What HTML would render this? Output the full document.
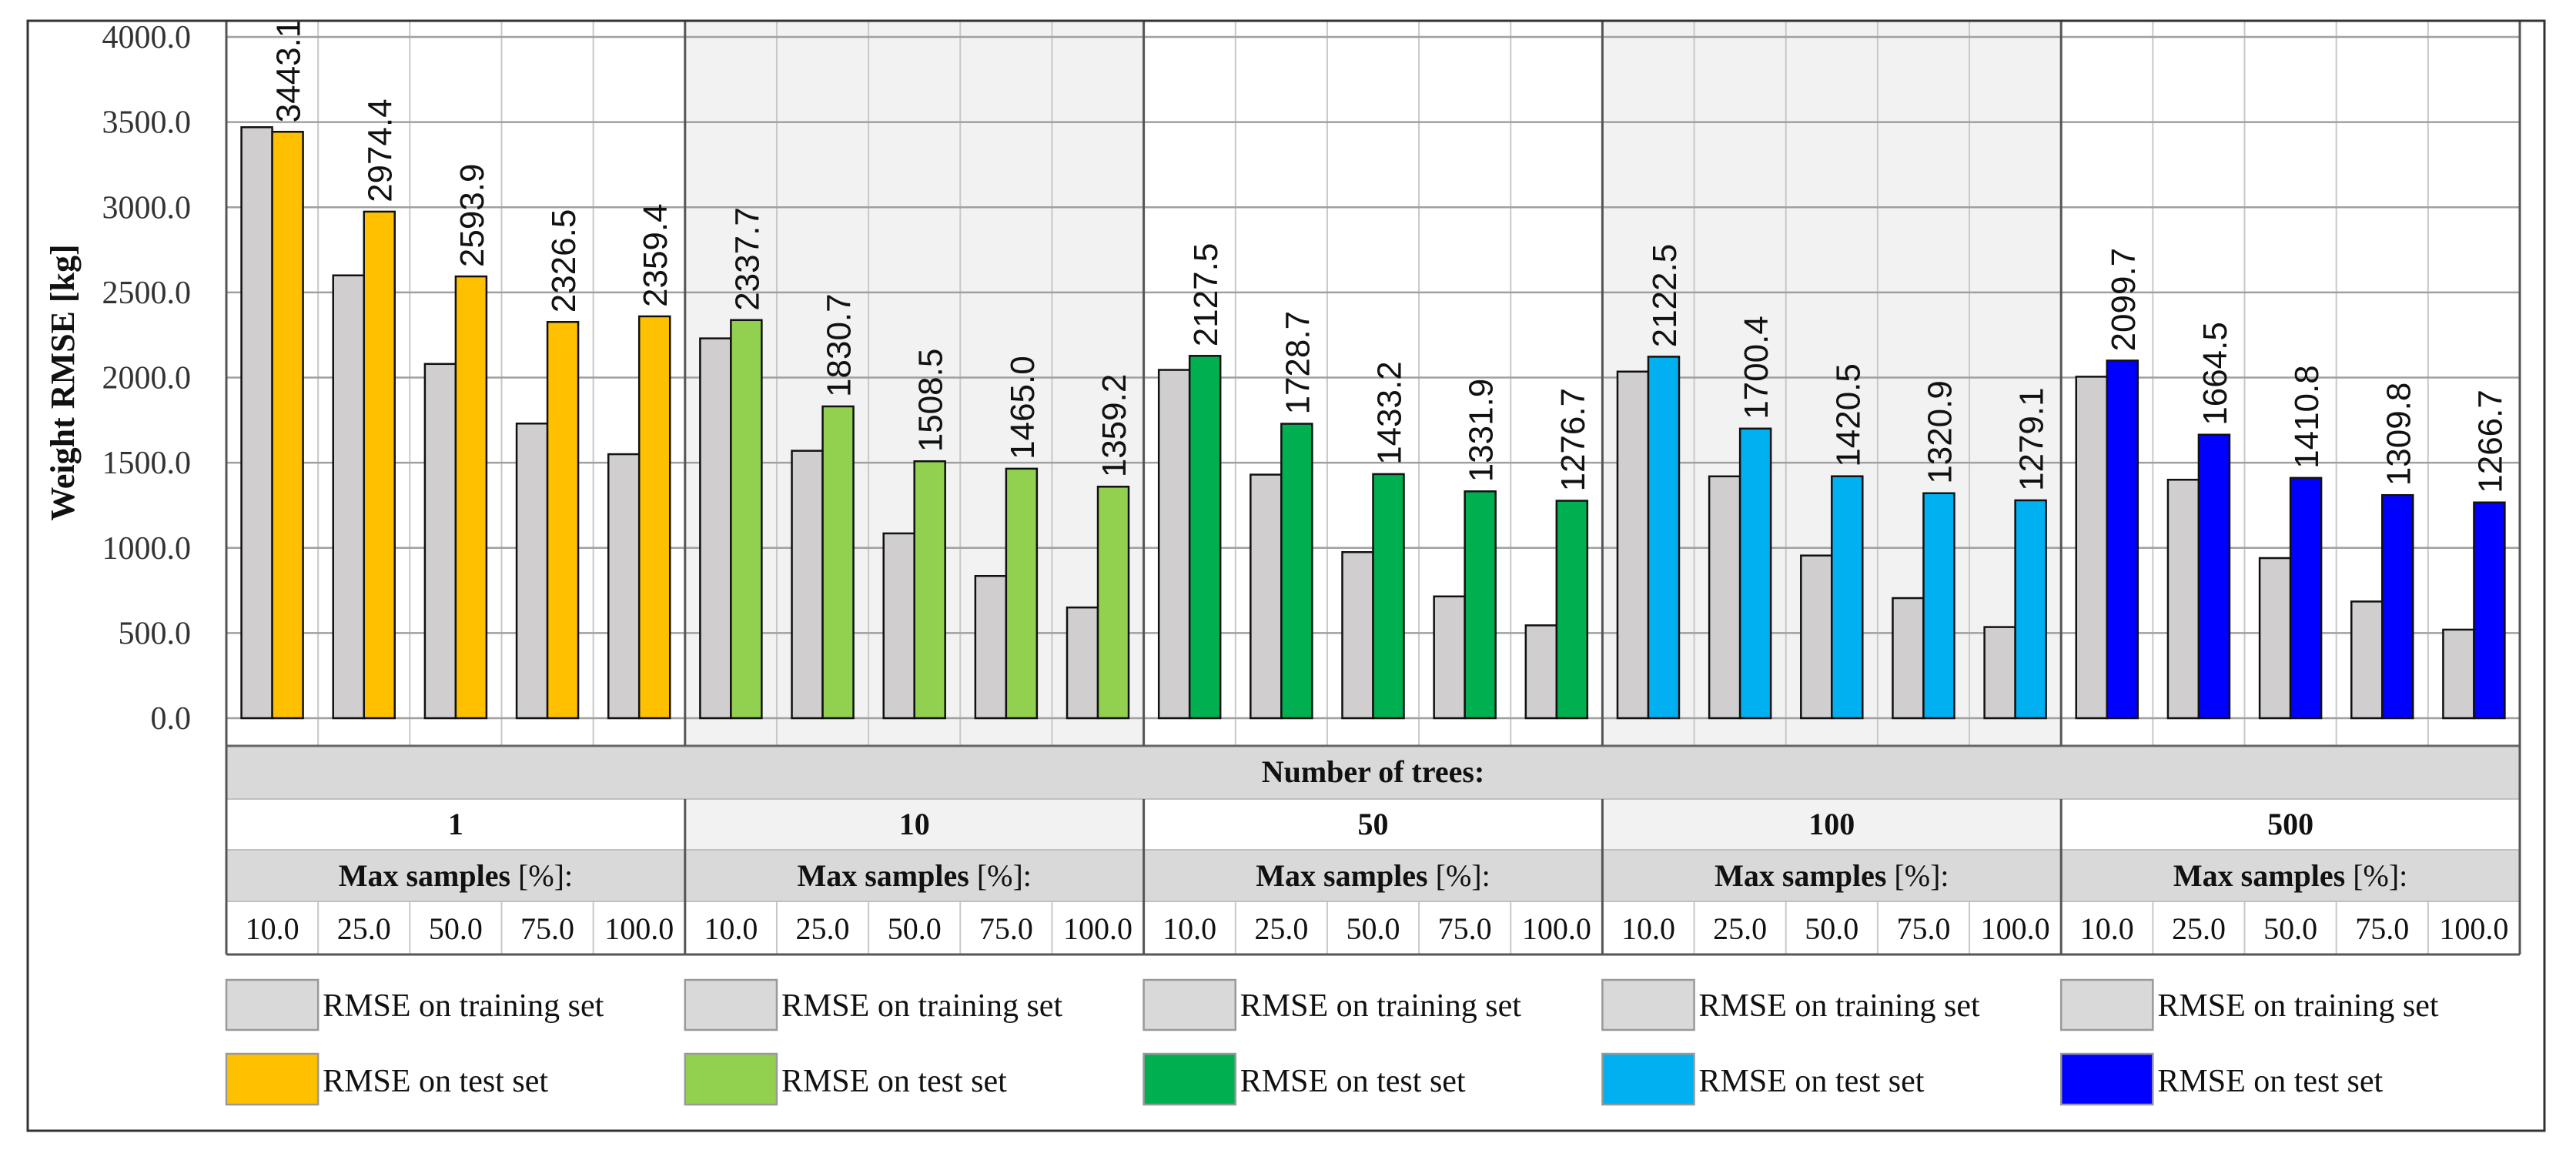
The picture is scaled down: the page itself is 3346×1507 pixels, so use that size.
<!DOCTYPE html>
<html><head><meta charset="utf-8"><style>
html,body{margin:0;padding:0;background:#fff;}
svg{display:block;}
</style></head><body>
<svg id="chart" width="3346" height="1507" viewBox="0 0 3346 1507" xmlns="http://www.w3.org/2000/svg">
<g id="bg"></g><g id="grid"></g><g id="bars"></g><g id="labels"></g><g id="table"></g><g id="legend"></g>
</svg>
<script>
const treeCounts = ["1","10","50","100","500"];
const maxSamples = ["10.0","25.0","50.0","75.0","100.0"];
const trainValues = [3470,2600,2080,1730,1550, 2230,1570,1085,835,650, 2045,1430,975,715,545, 2035,1420,955,705,535, 2005,1400,940,685,520];
const testValues = [3443.1,2974.4,2593.9,2326.5,2359.4, 2337.7,1830.7,1508.5,1465.0,1359.2, 2127.5,1728.7,1433.2,1331.9,1276.7, 2122.5,1700.4,1420.5,1320.9,1279.1, 2099.7,1664.5,1410.8,1309.8,1266.7];
const yTicks = [0,500,1000,1500,2000,2500,3000,3500,4000];
const testColors = ["#FFC000","#92D050","#00B050","#00B0F0","#0000FF"];

const NS="http://www.w3.org/2000/svg";
const L=294,R=3273,TOP=27,PB=969,Y0=933,Y4000=48;
const colW=(R-L)/25, grpW=colW*5;
const y=v=>Y0-(v/4000)*(Y0-Y4000);
const xCol=i=>L+i*colW;
function mk(tag,attrs,parent,text){const e=document.createElementNS(NS,tag);for(const k in attrs)e.setAttribute(k,attrs[k]);if(text!==undefined)e.textContent=text;parent.appendChild(e);return e;}
const bg=document.getElementById('bg'),grid=document.getElementById('grid'),bars=document.getElementById('bars'),labels=document.getElementById('labels'),table=document.getElementById('table'),legend=document.getElementById('legend');
const SERIF='"Liberation Serif", serif', NARROW='"Liberation Sans Narrow","Liberation Sans",sans-serif';

// shaded groups
for(let g=0;g<5;g++){ if(g%2===1){
  let r=mk('rect',{x:L+g*grpW,y:TOP,width:grpW,height:PB-TOP,fill:'#f2f2f2'},bg);
   
  let r2=mk('rect',{x:L+g*grpW,y:1038,width:grpW,height:66,fill:'#f2f2f2'},bg);
   
}}
// vertical minor lines
for(let i=1;i<25;i++){ if(i%5) {
  mk('line',{x1:xCol(i),x2:xCol(i),y1:TOP,y2:PB,stroke:'#c8c8c8','stroke-width':2},grid);
  mk('line',{x1:xCol(i),x2:xCol(i),y1:1171,y2:1240,stroke:'#c8c8c8','stroke-width':2},grid);
}}
// horizontal gridlines
yTicks.forEach(t=>{
  let ln=mk('line',{x1:L,x2:R,y1:y(t),y2:y(t),stroke:'#a0a0a0','stroke-width':2.5},grid);
   
  let tx=mk('text',{x:248,y:y(t)+14,'text-anchor':'end','font-family':SERIF,'font-size':42,fill:'#333'},grid,t.toFixed(1));
   
});
// y title
let yt=mk('text',{x:0,y:0,transform:'translate(96,497) rotate(-90)','text-anchor':'middle','font-family':SERIF,'font-size':44,'font-weight':'bold',fill:'#111'},grid,'Weight RMSE [kg]');
 

// bars
const bw=40;
for(let i=0;i<25;i++){
  const g=Math.floor(i/5), x0=xCol(i)+(colW-2*bw)/2;
  let b1=mk('rect',{x:x0,y:y(trainValues[i]),width:bw,height:Y0-y(trainValues[i]),fill:'#D0CECE',stroke:'#111','stroke-width':2.5},bars);
   
  let b2=mk('rect',{x:x0+bw,y:y(testValues[i]),width:bw,height:Y0-y(testValues[i]),fill:testColors[g],stroke:'#111','stroke-width':2.5},bars);
   
  const cx=x0+bw*1.5+16, ty=y(testValues[i])-12;
  let lb=mk('text',{x:0,y:0,transform:`translate(${cx},${ty}) rotate(-90)`,'font-family':NARROW,'font-size':44,fill:'#111'},labels,testValues[i].toFixed(1));
   
}

// table
let r1=mk('rect',{x:L,y:PB,width:R-L,height:1038-PB,fill:'#d9d9d9'},table);
 
let t1=mk('text',{x:(L+R)/2,y:1016,'text-anchor':'middle','font-family':SERIF,'font-size':40,'font-weight':'bold',fill:'#111'},table,'Number of trees:');
 
let r2=mk('rect',{x:L,y:1104,width:R-L,height:67,fill:'#d9d9d9'},table);
 
for(let g=0;g<5;g++){
  const gx=L+g*grpW+grpW/2;
  let tn=mk('text',{x:gx,y:1084,'text-anchor':'middle','font-family':SERIF,'font-size':40,'font-weight':'bold',fill:'#111'},table,treeCounts[g]);
   
  let ms=mk('text',{x:gx,y:1151,'text-anchor':'middle','font-family':SERIF,'font-size':40,fill:'#111'},table);
   
  mk('tspan',{'font-weight':'bold'},ms,'Max samples ');
  mk('tspan',{},ms,'[%]:');
  for(let k=0;k<5;k++){
    let v=mk('text',{x:xCol(g*5+k)+colW/2,y:1220,'text-anchor':'middle','font-family':SERIF,'font-size':40,fill:'#111'},table,maxSamples[k]);
     
  }
}
// table lines
mk('line',{x1:L,x2:R,y1:PB,y2:PB,stroke:'#666','stroke-width':3},table);
mk('line',{x1:L,x2:R,y1:1038,y2:1038,stroke:'#c0c0c0','stroke-width':2},table);
mk('line',{x1:L,x2:R,y1:1104,y2:1104,stroke:'#c0c0c0','stroke-width':2},table);
mk('line',{x1:L,x2:R,y1:1171,y2:1171,stroke:'#c0c0c0','stroke-width':2},table);
mk('line',{x1:L,x2:R,y1:1240,y2:1240,stroke:'#555','stroke-width':3},table);
for(let g=0;g<=5;g++){
  const gx=L+g*grpW;
  mk('line',{x1:gx,x2:gx,y1:TOP,y2:PB,stroke:'#555','stroke-width':3},table);
  mk('line',{x1:gx,x2:gx,y1:1038,y2:1240,stroke:'#555','stroke-width':3},table);
}
mk('line',{x1:L,x2:L,y1:PB,y2:1038,stroke:'#555','stroke-width':3},table);
mk('line',{x1:R,x2:R,y1:PB,y2:1038,stroke:'#555','stroke-width':3},table);

// legend
for(let g=0;g<5;g++){
  const lx=L+g*grpW;
  let lb1=mk('rect',{x:lx,y:1273,width:colW,height:65,fill:'#d9d9d9',stroke:'#999','stroke-width':2.5},legend);
   
  let lt1=mk('text',{x:lx+colW+6,y:1320,'font-family':SERIF,'font-size':42,fill:'#111'},legend,'RMSE on training set');
   
  let lb2=mk('rect',{x:lx,y:1369,width:colW,height:66,fill:testColors[g],stroke:'#999','stroke-width':2.5},legend);
   
  let lt2=mk('text',{x:lx+colW+6,y:1418,'font-family':SERIF,'font-size':42,fill:'#111'},legend,'RMSE on test set');
   
}
// outer frame
let fr=mk('rect',{x:36,y:27,width:3269,height:1442,fill:'none',stroke:'#333','stroke-width':3},legend);
 
</script>
</body></html>
